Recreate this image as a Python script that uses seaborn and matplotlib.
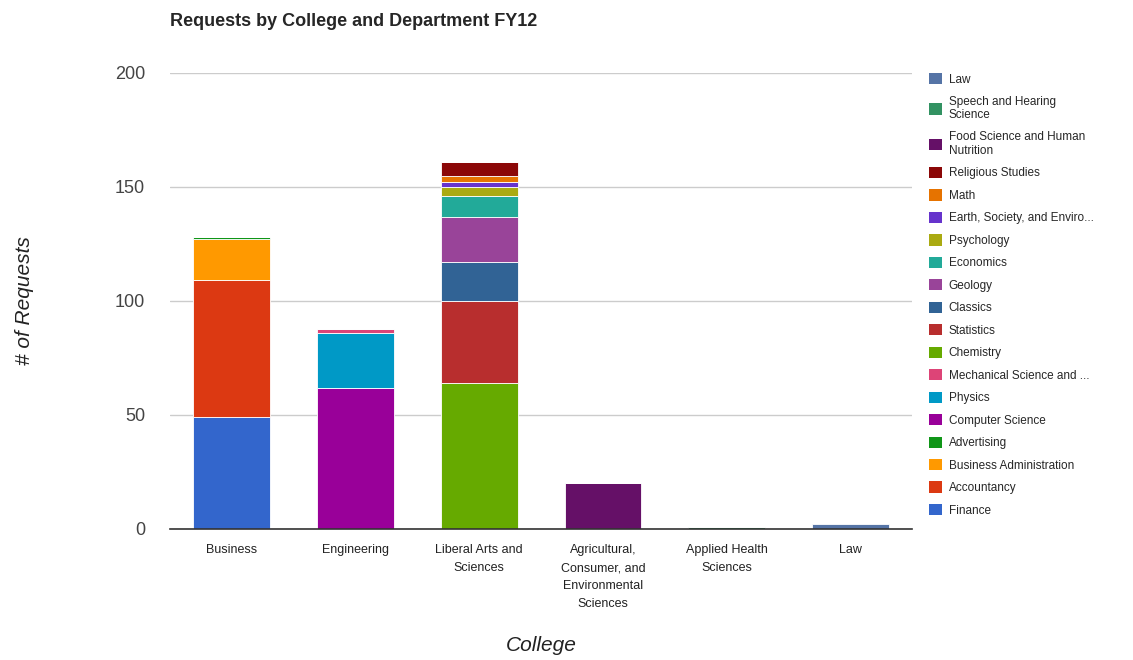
import pandas as pd
import seaborn as sns
import matplotlib.pyplot as plt
from matplotlib.patches import Patch

colleges = ["Business", "Engineering", "Liberal Arts and Sciences",
            "Agricultural, Consumer, and Environmental Sciences",
            "Applied Health Sciences", "Law"]
college_labels = ["Business", "Engineering", "Liberal Arts and\nSciences",
                  "Agricultural,\nConsumer, and\nEnvironmental\nSciences",
                  "Applied Health\nSciences", "Law"]

# department, college, requests (bottom of stack first)
departments = ["Finance", "Accountancy", "Business Administration", "Advertising",
               "Computer Science", "Physics", "Mechanical Science and Engineering",
               "Chemistry", "Statistics", "Classics", "Geology", "Economics",
               "Psychology", "Earth, Society, and Environment", "Math",
               "Religious Studies", "Food Science and Human Nutrition",
               "Speech and Hearing Science", "Law"]
dept_college = ["Business", "Business", "Business", "Business",
                "Engineering", "Engineering", "Engineering",
                "Liberal Arts and Sciences", "Liberal Arts and Sciences",
                "Liberal Arts and Sciences", "Liberal Arts and Sciences",
                "Liberal Arts and Sciences", "Liberal Arts and Sciences",
                "Liberal Arts and Sciences", "Liberal Arts and Sciences",
                "Liberal Arts and Sciences",
                "Agricultural, Consumer, and Environmental Sciences",
                "Applied Health Sciences", "Law"]
requests = [49, 60, 18, 1, 62, 24, 1.5, 64, 36, 17, 20, 9, 4, 2, 3, 6, 20, 1, 2]
legend_labels = ["Finance", "Accountancy", "Business Administration", "Advertising",
                 "Computer Science", "Physics", "Mechanical Science and ...",
                 "Chemistry", "Statistics", "Classics", "Geology", "Economics",
                 "Psychology", "Earth, Society, and Enviro...", "Math",
                 "Religious Studies", "Food Science and Human\nNutrition",
                 "Speech and Hearing\nScience", "Law"]
colors = ["#3366cc", "#dc3912", "#ff9900", "#109618", "#990099", "#0099c6",
          "#dd4477", "#66aa00", "#b82e2e", "#316395", "#994499", "#22aa99",
          "#aaaa11", "#6633cc", "#e67300", "#8b0707", "#651067", "#329262",
          "#5574a6"]

df = pd.DataFrame({"College": pd.Categorical(dept_college, categories=colleges),
                   "Department": departments, "Requests": requests})

sns.set_style("white")
plt.rcParams['font.family'] = ['Liberation Sans', 'DejaVu Sans']

fig = plt.figure(figsize=(11.33, 6.6), dpi=100)
ax = fig.add_axes([0.150, 0.1985, 0.655, 0.691])

palette = dict(zip(departments, colors))
sns.histplot(data=df, x="College", hue="Department", weights="Requests",
             hue_order=departments[::-1], multiple="stack", discrete=True,
             shrink=0.62, palette=palette, alpha=1, edgecolor="white",
             linewidth=0.6, legend=False, ax=ax)

ax.set_xlim(-0.5, 5.5)
ax.set_ylim(0, 200)
ax.set_yticks([0, 50, 100, 150, 200])
ax.set_xticks(range(len(colleges)))
ax.set_xticklabels(college_labels, fontsize=9, color="#222222", linespacing=1.65)
ax.tick_params(axis="y", labelsize=13, colors="#444444", length=0, pad=18)
ax.tick_params(axis="x", length=0, pad=11)
ax.yaxis.grid(True, color="#cccccc", linewidth=1)
ax.set_axisbelow(True)
for s in ["left", "right", "top"]:
    ax.spines[s].set_visible(False)
ax.spines["bottom"].set_color("#333333")
ax.spines["bottom"].set_linewidth(1.2)

ax.set_xlabel("College", fontsize=15, style="italic", color="#222222", labelpad=19)
ax.set_ylabel("# of Requests", fontsize=15, style="italic", color="#222222", labelpad=58)

fig.text(0.150, 0.968, "Requests by College and Department FY12",
         fontsize=13, fontweight="bold", ha="left", va="center")

handles = [Patch(facecolor=c, edgecolor="none") for c in colors[::-1]]
ax.legend(handles, legend_labels[::-1], loc="upper left",
          bbox_to_anchor=(1.016, 1.01), frameon=False, fontsize=8.5,
          handlelength=1.1, handleheight=1.1, labelspacing=0.83,
          handletextpad=0.6, borderaxespad=0)

fig.savefig("out.png", dpi=100)
